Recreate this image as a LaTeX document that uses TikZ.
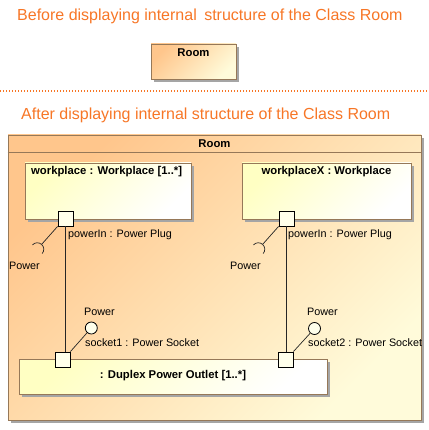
\documentclass[tikz,border=0pt]{standalone}
\usepackage{fontspec}
\setmainfont{Liberation Sans}
\usetikzlibrary{shadows,calc}
\definecolor{ttlc}{RGB}{247,118,38}
\definecolor{bord}{RGB}{150,120,88}
\definecolor{frA}{RGB}{255,198,140}
\definecolor{frB}{RGB}{255,251,218}
\definecolor{ptA}{RGB}{255,255,195}
\definecolor{portc}{RGB}{255,255,235}
\definecolor{shc}{RGB}{165,165,165}
\tikzset{
 lbl/.style={font=\fontsize{10.8}{12}\selectfont, inner sep=0pt},
 blbl/.style={font=\bfseries\fontsize{11.3}{13}\selectfont, inner sep=0pt},
 ttl/.style={font=\fontsize{16}{19}\selectfont, text=ttlc, inner sep=0pt, anchor=west},
 shadowed/.style={drop shadow={shadow xshift=3pt,shadow yshift=-3pt,fill=shc,opacity=1}},
 roombox/.style={draw=bord, line width=0.9pt, top color=frA, bottom color=frB, shading angle=45, shadowed, inner sep=0pt},
 partbox/.style={draw=bord, line width=0.9pt, top color=ptA, bottom color=white, shading angle=45, shadowed, inner sep=0pt},
 port/.style={draw=black, line width=0.8pt, fill=portc, minimum size=15pt, inner sep=0pt},
 ball/.style={circle, draw=black, line width=0.8pt, fill=portc, minimum size=12pt, inner sep=0pt},
 conn/.style={draw=black!85, line width=0.7pt},
}
\begin{document}
\begin{tikzpicture}[x=1pt,y=-1pt]
\useasboundingbox (0,0) rectangle (428,430);
% titles
\node[ttl] (t1) at (17,16) {Before displaying internal\hspace{3pt} structure of the Class Room};
\node[roombox, minimum width=85pt, minimum height=35pt] (room1) at (193.5,61.5) {};
\node[blbl, anchor=north] (room1t) at ([yshift=-5pt]room1.north) {Room};
\coordinate (dl) at (0,91);
\coordinate (dr) at (428,91);
\draw[ttlc, line width=1.4pt, dash pattern=on 1.4pt off 1.6pt] (dl) -- (dr);
\node[ttl] (t2) at (21,115) {After displaying internal structure of the Class Room};
% big frame
\node[roombox, minimum width=413pt, minimum height=285pt] (frame) at (214.5,277.5) {};
\draw[draw=bord, line width=0.9pt] ([yshift=-18pt]frame.north west) -- ([yshift=-18pt]frame.north east);
\node[blbl, anchor=north] (framet) at ([yshift=-5pt]frame.north) {Room};
% parts
\node[partbox, minimum width=166pt, minimum height=56pt] (wp1) at (108,191) {};
\node[blbl, anchor=west] (wp1t) at (31,172) {workplace : Workplace [1..*]};
\node[partbox, minimum width=169pt, minimum height=56pt] (wp2) at (326.5,191) {};
\node[blbl] (wp2t) at (326.5,172) {workplaceX : Workplace};
\node[partbox, minimum width=308pt, minimum height=35pt] (outlet) at (173,376.5) {};
\node[blbl] (outlett) at (173,376) {: Duplex Power Outlet [1..*]};
% ports
\node[port] (p1) at (65.5,218.5) {};
\node[port] (p2) at (286.5,218.5) {};
\node[port] (s1) at (62.5,359.5) {};
\node[port] (s2) at (285.5,359.5) {};
% connectors
\draw[conn] (p1.south) -- (p1.south |- s1.north);
\draw[conn] (p2.south) -- (p2.south |- s2.north);
% required interfaces
\draw[conn] (p1.south west) -- ++(-16,18) coordinate (r1);
\draw[conn] (r1) arc[start angle=48.4, end angle=138.4, radius=6.5pt];
\draw[conn] (r1) arc[start angle=48.4, end angle=-41.6, radius=6.5pt];
\draw[conn] (p2.south west) -- ++(-16,18) coordinate (r2);
\draw[conn] (r2) arc[start angle=48.4, end angle=138.4, radius=6.5pt];
\draw[conn] (r2) arc[start angle=48.4, end angle=-41.6, radius=6.5pt];
% provided interfaces
\node[ball] (c1) at (91.3,328) {};
\node[ball] (c2) at (314.5,328.5) {};
\draw[conn] (s1.north east) -- (c1);
\draw[conn] (s2.north east) -- (c2);
% labels
\node[lbl, anchor=west] (l1) at (68,235) {powerIn : Power Plug};
\node[lbl, anchor=west] (l2) at (288,235) {powerIn : Power Plug};
\node[lbl, anchor=west] (l3) at (9,266) {Power};
\node[lbl, anchor=west] (l4) at (230,266) {Power};
\node[lbl, anchor=west] (l5) at (84,312) {Power};
\node[lbl, anchor=west] (l6) at (307,312) {Power};
\node[lbl, anchor=west] (l7) at (85,343) {socket1 : Power Socket};
\node[lbl, anchor=west] (l8) at (308,343) {socket2 : Power Socket};
\end{tikzpicture}
\end{document}
